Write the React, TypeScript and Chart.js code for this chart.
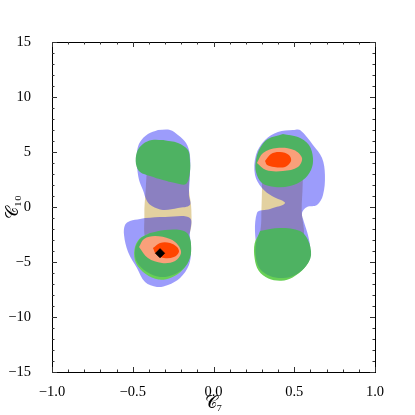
import React, { useEffect, useRef } from "react";
import { Chart, registerables } from "chart.js";
Chart.register(...registerables);

// ---- Data (C7, C10) contour outlines ----
const xTicks = [-1, -0.5, 0, 0.5, 1];
const yTicks = [-15, -10, -5, 0, 5, 10, 15];

const tanLeft = [[-0.41, 4.0], [-0.3, 4.8], [-0.16, 4.0], [-0.152, 1.55], [-0.137, -0.27], [-0.152, -2.5], [-0.269, -4.0], [-0.41, -3.2], [-0.428, -0.73], [-0.42, 1.55]];
const tanRight = [[0.3, 5.18], [0.443, 5.64], [0.548, 4.73], [0.552, 2.0], [0.546, -0.27], [0.556, -3.0], [0.474, -4.36], [0.3, -3.91], [0.296, -1.18], [0.3, 1.55]];

const blueLeftTop = [[-0.344, 7.0], [-0.269, 7.0], [-0.22, 6.55], [-0.17, 5.82], [-0.146, 4.73], [-0.146, 2.91], [-0.152, 1.09], [-0.146, 0.18], [-0.22, -0.09], [-0.313, -0.27], [-0.381, 0.09], [-0.412, 0.55], [-0.437, 1.55], [-0.461, 2.45], [-0.474, 3.82], [-0.474, 5.0], [-0.455, 5.91], [-0.406, 6.64]];
const blueLeftBottom = [[-0.424, -1.0], [-0.3, -0.91], [-0.146, -1.0], [-0.146, -2.55], [-0.139, -3.91], [-0.152, -5.27], [-0.207, -6.45], [-0.282, -7.09], [-0.35, -7.27], [-0.424, -6.82], [-0.474, -5.55], [-0.529, -4.09], [-0.554, -2.55], [-0.548, -1.64], [-0.517, -1.27], [-0.455, -1.09]];
const blueRight = [[0.492, 7.0], [0.536, 7.0], [0.616, 5.64], [0.672, 4.45], [0.69, 2.91], [0.678, 1.09], [0.641, 0.18], [0.579, 0.0], [0.548, -0.55], [0.56, -1.36], [0.585, -2.55], [0.598, -3.91], [0.567, -5.27], [0.474, -5.91], [0.319, -5.55], [0.269, -3.91], [0.269, -0.55], [0.35, -0.18], [0.443, 0.36], [0.362, 1.0], [0.3, 1.73], [0.257, 2.91], [0.263, 4.73], [0.319, 6.09], [0.399, 6.82]];

const greenOuterLL = [[-0.4, -2.4], [-0.3, -2.15], [-0.207, -2.15], [-0.16, -2.5], [-0.14, -3.5], [-0.15, -4.7], [-0.19, -5.7], [-0.26, -6.4], [-0.34, -6.6], [-0.42, -6.1], [-0.48, -5.1], [-0.49, -3.9], [-0.46, -2.9]];
const greenOuterLR = [[0.29, -2.25], [0.41, -2.0], [0.53, -2.25], [0.58, -3.0], [0.6, -4.4], [0.565, -5.5], [0.49, -6.4], [0.42, -6.7], [0.34, -6.5], [0.28, -5.8], [0.255, -4.7], [0.255, -3.3]];

const greenUL = [[-0.311, 6.09], [-0.22, 5.82], [-0.158, 5.18], [-0.146, 4.27], [-0.146, 3.18], [-0.17, 2.09], [-0.238, 2.18], [-0.313, 2.45], [-0.393, 2.82], [-0.455, 3.18], [-0.48, 3.91], [-0.474, 5.0], [-0.437, 5.73], [-0.381, 6.09]];
const greenUR = [[0.43, 6.64], [0.523, 6.36], [0.591, 5.64], [0.616, 4.45], [0.604, 3.36], [0.554, 2.45], [0.474, 1.91], [0.381, 1.82], [0.3, 2.18], [0.263, 3.18], [0.263, 4.27], [0.288, 5.36], [0.337, 6.18]];
const greenLL = [[-0.393, -2.36], [-0.3, -2.09], [-0.207, -2.09], [-0.158, -2.45], [-0.139, -3.45], [-0.146, -4.64], [-0.183, -5.55], [-0.251, -6.18], [-0.331, -6.36], [-0.412, -5.91], [-0.474, -5.0], [-0.486, -3.91], [-0.455, -2.91]];
const greenLR = [[0.288, -2.18], [0.412, -1.91], [0.536, -2.18], [0.585, -3.0], [0.604, -4.36], [0.573, -5.36], [0.505, -6.18], [0.43, -6.45], [0.35, -6.27], [0.288, -5.64], [0.263, -4.64], [0.263, -3.27]];

const salmonLL = [[-0.461, -3.64], [-0.43, -2.91], [-0.362, -2.64], [-0.269, -2.91], [-0.22, -3.45], [-0.201, -4.18], [-0.238, -4.91], [-0.319, -5.09], [-0.406, -4.64]];
const salmonUR = [[0.269, 4.0], [0.307, 4.91], [0.393, 5.36], [0.498, 5.18], [0.548, 4.45], [0.523, 3.64], [0.43, 3.27], [0.325, 3.36]];
const redLL = [[-0.375, -3.73], [-0.331, -3.27], [-0.269, -3.27], [-0.226, -3.64], [-0.214, -4.09], [-0.245, -4.55], [-0.307, -4.64], [-0.356, -4.27]];
const redUR = [[0.319, 4.18], [0.356, 4.82], [0.412, 5.0], [0.467, 4.73], [0.48, 4.18], [0.443, 3.64], [0.375, 3.64], [0.332, 3.82]];

const bestFit = [[-0.331, -4.2]];

const TAN = "rgb(227,209,160)";
const BLUE = "rgba(0,0,245,0.39)";
const GREEN_OUT = "rgb(104,208,86)";
const GREEN = "rgb(78,178,98)";
const SALMON = "rgb(250,160,122)";
const RED = "rgb(255,69,0)";

const toPts = (arr: number[][]) => {
  const p = arr.map(([x, y]) => ({ x, y }));
  p.push({ ...p[0] });
  return p;
};

const fmt = (v: number, d: number) => {
  const s = v.toFixed(d);
  return s.startsWith("-") ? "\u2212" + s.slice(1) : s;
};

const framePlugin = {
  id: "frameTicks",
  afterDraw(chart: any) {
    const { ctx, chartArea: a, scales } = chart;
    const xs = scales.x, ys = scales.y;
    ctx.save();
    ctx.strokeStyle = "#000";
    ctx.lineWidth = 1;
    ctx.strokeRect(Math.round(a.left) + 0.5, Math.round(a.top) + 0.5, Math.round(a.right - a.left), Math.round(a.bottom - a.top));
    ctx.strokeStyle = "#333";
    ctx.beginPath();
    for (let i = -10; i <= 10; i++) {
      const v = i / 10;
      const px = Math.round(xs.getPixelForValue(v)) + 0.5;
      const len = i % 5 === 0 ? 5 : 2.5;
      ctx.moveTo(px, a.bottom); ctx.lineTo(px, a.bottom - len);
      ctx.moveTo(px, a.top); ctx.lineTo(px, a.top + len);
    }
    for (let v = -15; v <= 15; v++) {
      const py = Math.round(ys.getPixelForValue(v)) + 0.5;
      const len = v % 5 === 0 ? 5 : 2.5;
      ctx.moveTo(a.left, py); ctx.lineTo(a.left + len, py);
      ctx.moveTo(a.right, py); ctx.lineTo(a.right - len, py);
    }
    ctx.stroke();
    ctx.restore();
  },
};

export default function App() {
  const ref = useRef<HTMLCanvasElement | null>(null);
  useEffect(() => {
    document.body.style.margin = "0";
    const poly = (data: number[][], color: string, order: number) => ({
      data: toPts(data),
      showLine: true,
      fill: "shape",
      backgroundColor: color,
      borderColor: "rgba(0,0,0,0)",
      borderWidth: 0,
      pointRadius: 0,
      tension: 0.35,
      order,
    });
    const datasets: any[] = [
      poly(tanLeft, TAN, 20), poly(tanRight, TAN, 20),
      poly(blueLeftTop, BLUE, 19), poly(blueLeftBottom, BLUE, 19), poly(blueRight, BLUE, 19),
      poly(greenOuterLL, GREEN_OUT, 18), poly(greenOuterLR, GREEN_OUT, 18),
      poly(greenUL, GREEN, 17), poly(greenUR, GREEN, 17), poly(greenLL, GREEN, 17), poly(greenLR, GREEN, 17),
      poly(salmonLL, SALMON, 16), poly(salmonUR, SALMON, 16),
      poly(redLL, RED, 15), poly(redUR, RED, 15),
      {
        data: bestFit.map(([x, y]) => ({ x, y })),
        showLine: false,
        pointStyle: "rectRot",
        pointRadius: 4.5,
        backgroundColor: "#000",
        borderColor: "#000",
        order: 1,
      },
    ];
    const font = { family: "'Liberation Serif', 'DejaVu Serif', serif", size: 14.5 };
    const chart = new Chart(ref.current!, {
      type: "scatter",
      data: { datasets },
      options: {
        animation: false,
        responsive: false,
        maintainAspectRatio: false,
        layout: { padding: { top: 42, right: 40, left: 0, bottom: 0 } },
        plugins: { legend: { display: false }, tooltip: { enabled: false } },
        scales: {
          x: {
            type: "linear", min: -1, max: 1,
            afterBuildTicks: (s: any) => { s.ticks = xTicks.map((v) => ({ value: v })); },
            afterFit: (s: any) => { s.height = 43; },
            ticks: { callback: (v: any) => fmt(Number(v), 1), font, color: "#000", padding: 3, maxRotation: 0, autoSkip: false },
            grid: { display: false },
            border: { display: false },
            title: { display: true, text: "\u{1D49E}\u2087", font: { family: "'Liberation Serif', 'DejaVu Serif', 'DejaVu Sans', serif", size: 17 }, color: "#000", padding: { top: 0, bottom: 1 } },
          },
          y: {
            type: "linear", min: -15, max: 15,
            afterBuildTicks: (s: any) => { s.ticks = yTicks.map((v) => ({ value: v })); },
            afterFit: (s: any) => { s.width = 52; },
            ticks: { callback: (v: any) => fmt(Number(v), 0), font, color: "#000", padding: 13, autoSkip: false },
            grid: { display: false },
            border: { display: false },
            title: { display: true, text: "\u{1D49E}\u2081\u2080", font: { family: "'Liberation Serif', 'DejaVu Serif', 'DejaVu Sans', serif", size: 17 }, color: "#000", padding: { top: 3, bottom: 0 } },
          },
        },
      },
      plugins: [framePlugin],
    });
    return () => chart.destroy();
  }, []);
  return <canvas ref={ref} width={415} height={415} style={{ display: "block" }} />;
}
